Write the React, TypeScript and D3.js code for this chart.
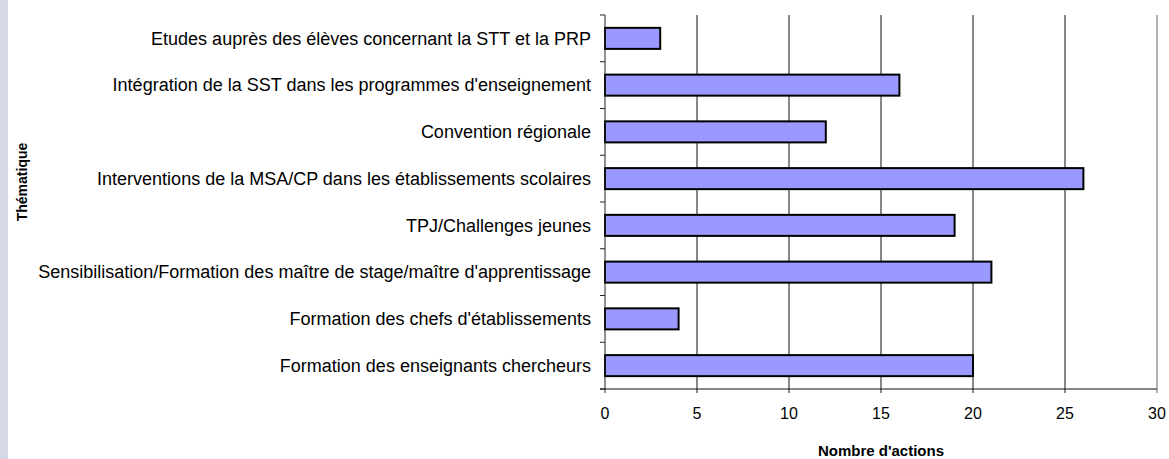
import React, { useEffect, useRef } from "react";
import * as d3 from "d3";

const categories = [
  "Etudes auprès des élèves concernant la STT et la PRP",
  "Intégration de la SST dans les programmes d'enseignement",
  "Convention régionale",
  "Interventions de la MSA/CP dans les établissements scolaires",
  "TPJ/Challenges jeunes",
  "Sensibilisation/Formation des maître de stage/maître d'apprentissage",
  "Formation des chefs d'établissements",
  "Formation des enseignants chercheurs",
];
const values = [3, 16, 12, 26, 19, 21, 4, 20];
const xTicks = [0, 5, 10, 15, 20, 25, 30];

const W = 1169;
const H = 459;
const FONT = "'Liberation Sans', Arial, sans-serif";

export default function App() {
  const ref = useRef<SVGSVGElement>(null);

  useEffect(() => {
    const svg = d3.select(ref.current);
    svg.selectAll("*").remove();

    const left = 605,
      right = 1157,
      top = 15,
      bottom = 389;

    // light strip on the left edge
    svg.append("rect").attr("x", 0).attr("y", 0).attr("width", 8).attr("height", H).attr("fill", "#d6d8e6");

    const x = d3.scaleLinear().domain([0, 30]).range([left, right]);
    const y = d3.scaleBand<number>().domain(d3.range(categories.length)).range([top, bottom]).paddingInner(0.55).paddingOuter(0.275);
    const band = d3.scaleBand<number>().domain(d3.range(categories.length)).range([top, bottom]);

    const g = svg.append("g");

    // vertical gridlines
    g.selectAll(".grid")
      .data(xTicks.slice(1))
      .enter()
      .append("line")
      .attr("x1", (d) => x(d))
      .attr("x2", (d) => x(d))
      .attr("y1", top)
      .attr("y2", bottom + 4)
      .attr("stroke", (d) => (d === 30 ? "#666" : "#111"))
      .attr("stroke-width", 1);

    // bars
    g.selectAll(".bar")
      .data(values)
      .enter()
      .append("rect")
      .attr("x", x(0))
      .attr("y", (d, i) => y(i)!)
      .attr("width", (d) => x(d) - x(0))
      .attr("height", y.bandwidth())
      .attr("fill", "#9999ff")
      .attr("stroke", "#000")
      .attr("stroke-width", 2);

    // y axis
    g.append("line").attr("x1", left).attr("x2", left).attr("y1", top).attr("y2", bottom + 4).attr("stroke", "#222");
    g.selectAll(".ytick")
      .data(d3.range(categories.length + 1))
      .enter()
      .append("line")
      .attr("x1", left - 5)
      .attr("x2", left)
      .attr("y1", (i) => (i < categories.length ? band(i)! : bottom))
      .attr("y2", (i) => (i < categories.length ? band(i)! : bottom))
      .attr("stroke", "#222");

    g.selectAll(".ylabel")
      .data(categories)
      .enter()
      .append("text")
      .attr("x", 591)
      .attr("y", (d, i) => band(i)! + band.bandwidth() / 2)
      .attr("dy", "0.35em")
      .attr("text-anchor", "end")
      .attr("font-family", FONT)
      .attr("font-size", 18)
      .attr("fill", "#000")
      .text((d) => d);

    // x axis
    g.append("line").attr("x1", left - 5).attr("x2", right).attr("y1", bottom).attr("y2", bottom).attr("stroke", "#111");
    g.selectAll(".xlabel")
      .data(xTicks)
      .enter()
      .append("text")
      .attr("x", (d) => x(d))
      .attr("y", 419)
      .attr("text-anchor", "middle")
      .attr("font-family", FONT)
      .attr("font-size", 16)
      .attr("fill", "#000")
      .text((d) => d);

    svg.append("text")
      .attr("x", 881)
      .attr("y", 456)
      .attr("text-anchor", "middle")
      .attr("font-family", FONT)
      .attr("font-size", 15)
      .attr("font-weight", "bold")
      .attr("fill", "#000")
      .text("Nombre d'actions");

    svg.append("text")
      .attr("transform", "translate(27,182) rotate(-90)")
      .attr("text-anchor", "middle")
      .attr("font-family", FONT)
      .attr("font-size", 14)
      .attr("font-weight", "bold")
      .attr("fill", "#000")
      .text("Thématique");
  }, []);

  return (
    <svg
      ref={ref}
      width={W}
      height={H}
      style={{ position: "fixed", left: 0, top: 0, background: "#fff" }}
    />
  );
}
